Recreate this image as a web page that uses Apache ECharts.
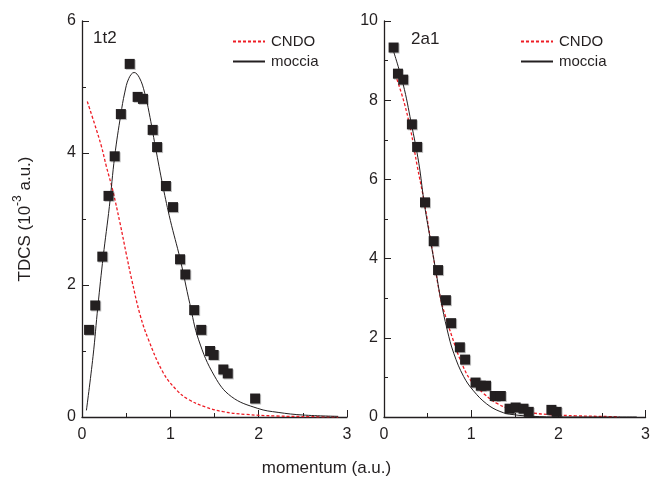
<!DOCTYPE html>
<html><head><meta charset="utf-8">
<script src="https://cdn.jsdelivr.net/npm/echarts@6/dist/echarts.min.js"></script>
<style>html,body{margin:0;padding:0;background:#fff}#c{width:653px;height:479px}</style>
</head><body><div id="c"></div>
<script>
// Panel 1t2
const exp1t2 = [[0.08,1.32],[0.15,1.69],[0.23,2.43],[0.30,3.35],[0.37,3.95],[0.44,4.59],[0.54,5.35],[0.63,4.85],[0.69,4.82],[0.80,4.35],[0.85,4.09],[0.95,3.50],[1.03,3.18],[1.11,2.39],[1.17,2.16],[1.27,1.62],[1.35,1.32],[1.45,1.00],[1.49,0.94],[1.60,0.72],[1.65,0.66],[1.96,0.28]];
const moccia1t2 = [[0.05,0.10],[0.125,0.92],[0.18,1.68],[0.24,2.43],[0.31,3.19],[0.37,3.95],[0.44,4.59],[0.483,4.91],[0.53,5.13],[0.59,5.22],[0.65,5.14],[0.71,4.91],[0.76,4.61],[0.83,4.10],[0.917,3.49],[1.0,2.98],[1.11,2.40],[1.22,1.72],[1.32,1.17],[1.50,0.62],[1.69,0.31],[1.99,0.13],[2.22,0.07],[2.5,0.03],[2.9,0.01]];
const cndo1t2 = [[0.06,4.78],[0.14,4.45],[0.22,4.10],[0.275,3.80],[0.347,3.44],[0.43,2.94],[0.50,2.48],[0.563,2.08],[0.657,1.55],[0.75,1.18],[0.92,0.67],[1.07,0.41],[1.2,0.27],[1.4,0.15],[1.6,0.08],[1.85,0.04],[2.2,0.015],[2.6,0.005],[2.9,0.0]];
// Panel 2a1
const exp2a1 = [[0.11,9.33],[0.16,8.67],[0.22,8.52],[0.32,7.39],[0.38,6.82],[0.47,5.42],[0.57,4.44],[0.62,3.71],[0.71,2.95],[0.77,2.37],[0.87,1.76],[0.93,1.45],[1.05,0.87],[1.11,0.79],[1.17,0.79],[1.27,0.53],[1.34,0.53],[1.44,0.21],[1.51,0.24],[1.60,0.21],[1.66,0.13],[1.92,0.18],[1.98,0.13]];
const moccia2a1 = [[0.10,9.3],[0.22,8.4],[0.31,7.45],[0.40,6.4],[0.46,5.42],[0.53,4.5],[0.593,3.71],[0.65,2.98],[0.725,2.2],[0.80,1.61],[0.914,1.02],[1.027,0.66],[1.178,0.33],[1.33,0.14],[1.48,0.06],[1.78,0.01],[2.1,0.0],[2.9,0.0]];
const cndo2a1 = [[0.13,8.65],[0.23,7.95],[0.31,7.2],[0.38,6.35],[0.46,5.45],[0.555,4.2],[0.65,2.98],[0.706,2.54],[0.78,2.03],[0.876,1.44],[0.99,0.94],[1.14,0.60],[1.29,0.35],[1.48,0.18],[1.71,0.10],[1.9,0.06],[2.2,0.03],[2.6,0.01],[2.7,0.0]];

const panelLabels = ['1t2', '2a1'];
const seriesNames = ['CNDO', 'moccia'];
const yMax = [6, 10];
const xTitle = 'momentum (a.u.)';

const ink = '#231f20';
const red = '#ee1c25';
const font = 'Liberation Sans, Arial, sans-serif';

function xAx(i) {
  return {
    type: 'value', gridIndex: i, min: 0, max: 3, interval: 1,
    axisLine: {show: true, onZero: false, lineStyle: {color: ink, width: 1.3}},
    axisTick: {show: true, inside: true, length: 7, lineStyle: {color: ink, width: 1}},
    minorTick: {show: true, splitNumber: 2, length: 4, lineStyle: {color: ink, width: 1}},
    splitLine: {show: false},
    axisLabel: {color: ink, fontSize: 16, fontFamily: font, margin: 10}
  };
}
function yAx(i, max) {
  const a = {
    type: 'value', gridIndex: i, min: 0, max: max, interval: 2,
    axisLine: {show: true, onZero: false, lineStyle: {color: ink, width: 1.3}},
    axisTick: {show: true, inside: true, length: 7, lineStyle: {color: ink, width: 1}},
    minorTick: {show: true, splitNumber: 2, length: 4, lineStyle: {color: ink, width: 1}},
    splitLine: {show: false},
    axisLabel: {color: ink, fontSize: 16, fontFamily: font, margin: 6}
  };
  if (i === 0) {
    a.name = '{a|TDCS (10}{s|-3}{a| a.u.)}';
    a.nameLocation = 'middle';
    a.nameGap = 48;
    a.nameRotate = 90;
    a.nameTextStyle = {
      color: ink, fontFamily: font,
      rich: {
        a: {fontSize: 17, color: ink, fontFamily: font, lineHeight: 22, verticalAlign: 'bottom'},
        s: {fontSize: 12, color: ink, fontFamily: font, lineHeight: 12, verticalAlign: 'top'}
      }
    };
  }
  return a;
}
function lineS(name, data, i) {
  const isC = name === 'CNDO';
  return {
    name: name, type: 'line', xAxisIndex: i, yAxisIndex: i, data: data,
    smooth: 0.4, symbol: 'none', z: 2,
    lineStyle: isC ? {color: red, width: 1.3, type: [3, 2]} : {color: ink, width: 1},
    itemStyle: {color: isC ? red : ink}
  };
}
function scatS(data, i) {
  return {
    name: 'exp' + i, type: 'scatter', xAxisIndex: i, yAxisIndex: i, data: data,
    symbol: 'rect', symbolSize: 10, z: 5,
    itemStyle: {color: ink, opacity: 1, shadowColor: 'rgba(0,0,0,0.25)', shadowOffsetX: 1, shadowOffsetY: 1}
  };
}
function legend(left) {
  return {
    orient: 'vertical', left: left, top: 34, data: seriesNames,
    itemWidth: 32, itemHeight: 14, itemGap: 5, padding: 0,
    selectedMode: false,
    itemStyle: {opacity: 0},
    textStyle: {color: ink, fontSize: 15, fontFamily: font, padding: [0, 0, 0, 1]}
  };
}

const chart = echarts.init(document.getElementById('c'), null, {renderer: 'canvas'});
chart.setOption({
  animation: false,
  backgroundColor: '#fff',
  textStyle: {fontFamily: font},
  grid: [
    {left: 82, top: 21, width: 265, height: 396},
    {left: 384, top: 21, width: 265, height: 396}
  ],
  title: [
    {text: panelLabels[0], left: 93, top: 30, padding: 0, textStyle: {color: ink, fontSize: 17, fontWeight: 'normal', fontFamily: font}},
    {text: panelLabels[1], left: 411, top: 31, padding: 0, textStyle: {color: ink, fontSize: 17, fontWeight: 'normal', fontFamily: font}}
  ],
  legend: [legend(232), legend(520)],
  xAxis: [xAx(0), xAx(1)],
  yAxis: [yAx(0, yMax[0]), yAx(1, yMax[1])],
  graphic: [{
    type: 'text', left: 'center', top: 460,
    style: {text: xTitle, fill: ink, fontSize: 17, fontFamily: font}
  }],
  series: [
    lineS('CNDO', cndo1t2, 0), lineS('moccia', moccia1t2, 0), scatS(exp1t2, 0),
    lineS('CNDO', cndo2a1, 1), lineS('moccia', moccia2a1, 1), scatS(exp2a1, 1)
  ]
});
</script></body></html>
